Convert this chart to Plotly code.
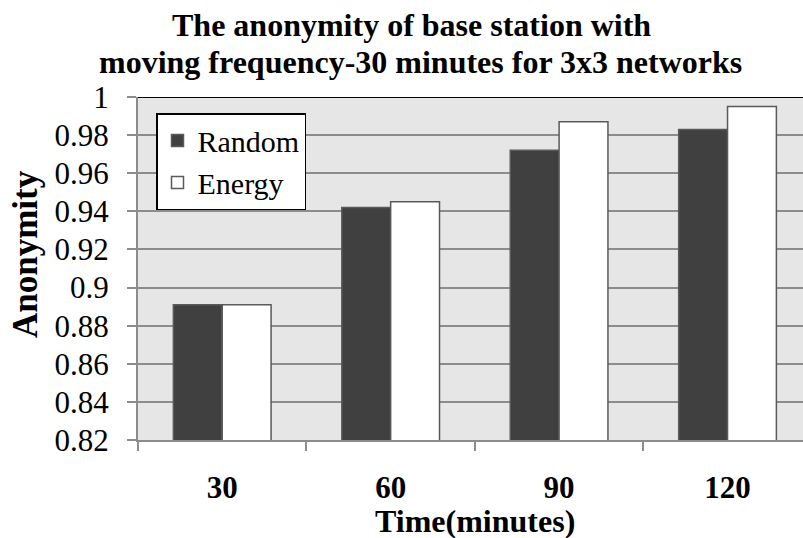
import plotly.graph_objects as go

categories = ["30", "60", "90", "120"]
random_vals = [0.891, 0.942, 0.972, 0.983]
energy_vals = [0.891, 0.945, 0.987, 0.995]
y_ticks = [0.82, 0.84, 0.86, 0.88, 0.90, 0.92, 0.94, 0.96, 0.98, 1.0]
y_tick_text = ["0.82", "0.84", "0.86", "0.88", "0.9", "0.92", "0.94", "0.96", "0.98", "1"]
title_lines = ["The anonymity of base station with", "moving frequency-30 minutes for 3x3 networks"]

FONT = "Liberation Serif"
W, H = 803, 538
L, R, T, B = 138, 0, 97, 98
PW, PH = W - L - R, H - T - B

fig = go.Figure()
fig.add_trace(go.Bar(x=categories, y=random_vals, name="Random",
                     marker=dict(color="#404040", line=dict(color="#5a5a5a", width=1.5))))
fig.add_trace(go.Bar(x=categories, y=energy_vals, name="Energy",
                     marker=dict(color="#ffffff", line=dict(color="#5a5a5a", width=1.5))))

fig.update_layout(
    width=W, height=H,
    margin=dict(l=L, r=R, t=T, b=B, pad=0),
    paper_bgcolor="white",
    plot_bgcolor="#e6e6e6",
    barmode="group", bargap=0.42, bargroupgap=0,
    font=dict(family=FONT, size=31, color="black"),
    showlegend=True,
    legend=dict(x=(156 - L) / PW, y=(440 - 113) / PH, xanchor="left", yanchor="top",
                bgcolor="white", bordercolor="black", borderwidth=1.5,
                font=dict(family=FONT, size=30, color="black"),
                tracegroupgap=0, itemwidth=30),
    xaxis=dict(type="category", range=[-0.5, 3.448],
               showline=True, linecolor="#8c8c8c", linewidth=2,
               ticks="outside", tickson="boundaries", ticklen=9, tickcolor="#8c8c8c", tickwidth=2,
               tickfont=dict(family=FONT, size=31, color="black", weight="bold"),
               ticklabelstandoff=19,
               showgrid=False, zeroline=False),
    yaxis=dict(range=[0.82, 1.0], tickvals=y_ticks, ticktext=y_tick_text,
               showline=True, linecolor="#8c8c8c", linewidth=2,
               ticks="outside", ticklen=9, tickcolor="#8c8c8c", tickwidth=2,
               tickfont=dict(family=FONT, size=31, color="black"),
               ticklabelstandoff=12,
               showgrid=True, gridcolor="#8c8c8c", gridwidth=2, zeroline=False),
)

fig.add_shape(type="line", xref="paper", yref="y", x0=0, x1=1, y0=1.0, y1=1.0,
              line=dict(color="black", width=2))

for line_text, cx, cy in zip(title_lines, [411, 420], [25, 62]):
    fig.add_annotation(text=f"<b>{line_text}</b>", xref="paper", yref="paper",
                       x=(cx - L) / PW, y=(440 - cy) / PH, xanchor="center", yanchor="middle",
                       showarrow=False, font=dict(family=FONT, size=32, color="black"))

fig.add_annotation(text="<b>Time(minutes)</b>", xref="paper", yref="paper",
                   x=(475 - L) / PW, y=(440 - 521) / PH, xanchor="center", yanchor="middle",
                   showarrow=False, font=dict(family=FONT, size=32, color="black"))

fig.add_annotation(text="<b>Anonymity</b>", textangle=-90, xref="paper", yref="paper",
                   x=-(L - 25) / PW, y=(440 - 254) / PH,
                   xanchor="center", yanchor="middle", showarrow=False,
                   font=dict(family=FONT, size=35, color="black"))

fig.write_html("out.html")
